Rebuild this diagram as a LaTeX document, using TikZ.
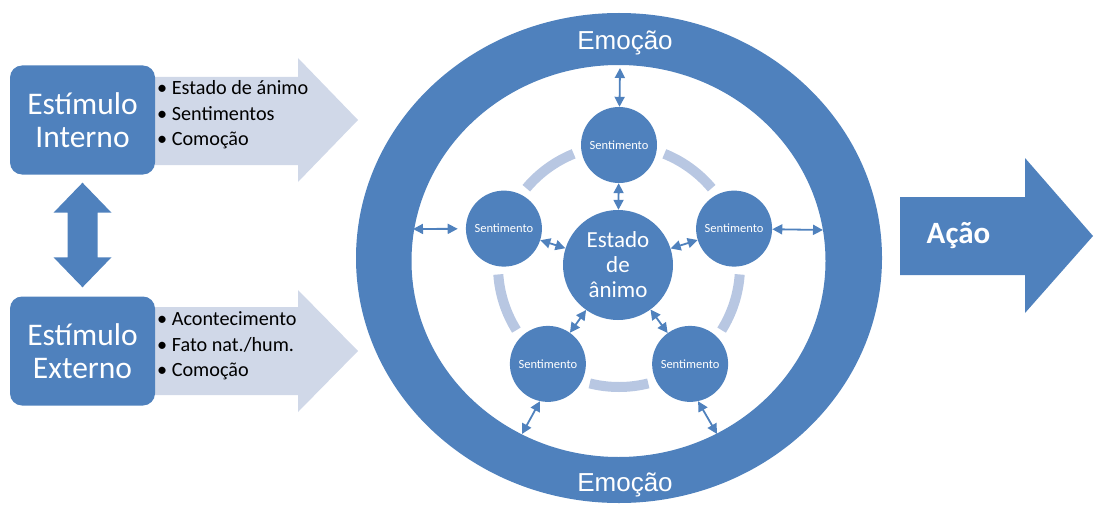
\documentclass[tikz,border=0pt]{standalone}
\usepackage{fontspec}
\setmainfont{Carlito}
\newfontfamily\arialfont{Liberation Sans}
\usetikzlibrary{arrows.meta,calc}
\definecolor{mainblue}{RGB}{79,129,189}
\definecolor{paleblue}{RGB}{208,216,232}
\definecolor{arcblue}{RGB}{184,199,226}

\begin{document}
\begin{tikzpicture}[x=1pt,y=-1pt,
  stimbox/.style={rectangle, rounded corners=12pt, fill=mainblue, text=white,
    minimum width=145pt, minimum height=109pt, align=center, inner sep=0pt,
    font=\fontsize{31.5}{33}\selectfont},
  feel/.style={circle, fill=mainblue, text=white, minimum size=76pt, inner sep=0pt,
    font=\fontsize{12.5}{13}\selectfont},
  core/.style={circle, fill=mainblue, text=white, minimum size=110pt, inner sep=0pt,
    align=center, font=\fontsize{23}{25}\selectfont},
  link/.style={mainblue, line width=1.8pt,
    {Triangle[length=10pt,width=10pt]}-{Triangle[length=10pt,width=10pt]}},
  bullets/.style={anchor=west, align=left, inner sep=0pt,
    font=\fontsize{20.2}{25.5}\selectfont},
  arcband/.style={arcblue, line width=10pt},
  ringlabel/.style={text=white, inner sep=0pt, font=\arialfont\fontsize{26}{28}\selectfont}
]
\useasboundingbox (0,0) rectangle (1094,508);

% pale arrows behind the stimulus boxes
\fill[paleblue] (150,77) -- (298,77) -- (298,58) -- (358,120) -- (298,182)
  -- (298,165) -- (150,165) -- cycle;
\fill[paleblue] (150,307) -- (298,307) -- (298,290) -- (358,351) -- (298,412)
  -- (298,395) -- (150,395) -- cycle;

% stimulus boxes
\node[stimbox] (si) at (82.5,120) {Estímulo\\Interno};
\node[stimbox] (se) at (82.5,351) {Estímulo\\Externo};

\node[bullets] (bi) at (157,115)
  {\textbullet\ Estado de ánimo\\\textbullet\ Sentimentos\\\textbullet\ Comoção};
\node[bullets] (be) at (157,346)
  {\textbullet\ Acontecimento\\\textbullet\ Fato nat./hum.\\\textbullet\ Comoção};

% thick double arrow between the two boxes
\path (si.south) ++(0,8) coordinate (dt);
\path (se.north) ++(0,-9) coordinate (db);
\fill[mainblue] (dt) -- ++(29,30) -- ++(-14,0) -- ($(db)+(15,-30)$) -- ++(14,0)
  -- (db) -- ++(-29,-30) -- ++(14,0) -- ($(dt)+(-15,30)$) -- ++(-14,0) -- cycle;

% emotion ring
\fill[mainblue, even odd rule]
  (619,258) ellipse [x radius=263pt, y radius=245pt]
  (618.5,261) ellipse [x radius=207pt, y radius=196pt];
\node[ringlabel] (e1) at (625,43) {Emoção};
\node[ringlabel] (e2) at (625,485) {Emoção};

% pale circular band linking the feelings
\coordinate (pc) at (619,266);
\foreach \a/\b in {40/68, -32/-4, -104/-76, 184/212, 112/140}
  \draw[arcband] ($(pc)+(\a:121pt)$) arc[start angle=\a, end angle=\b, radius=121pt];

% feelings and mood
\node[feel] (s1) at ($(pc)+(90:121pt)$) {Sentimento};
\node[feel] (s2) at ($(pc)+(162:121pt)$) {Sentimento};
\node[feel] (s3) at ($(pc)+(18:121pt)$) {Sentimento};
\node[feel] (s4) at ($(pc)+(-126:121pt)$) {Sentimento};
\node[feel] (s5) at ($(pc)+(-54:121pt)$) {Sentimento};
\node[core] (c) at (618,265) {Estado\\de\\ânimo};

% points on the inner edge of the ring
\coordinate (r1) at (620,68);
\coordinate (r2) at (413,229);
\coordinate (r3) at (823,230);
\coordinate (r4) at (522,434);
\coordinate (r5) at (717,434);

% links
\draw[link] (s1) -- (c);
\draw[link] (s2) -- (c);
\draw[link] (s3) -- (c);
\draw[link] (s4) -- (c);
\draw[link] (s5) -- (c);
\draw[link] (r1) -- (s1);
\draw[link, shorten >=8pt] (r2) -- (s2);
\draw[link] (r3) -- (s3);
\draw[link] (r4) -- (s4.-102);
\draw[link] (r5) -- (s5.-78);

% action arrow
\fill[mainblue] (900,197) -- (1025,197) -- (1025,158) -- (1093,236) -- (1025,313)
  -- (1025,275) -- (900,275) -- cycle;
\node[text=white, inner sep=0pt, font=\bfseries\fontsize{31}{33}\selectfont] (acao)
  at (958.5,236) {Ação};
\end{tikzpicture}
\end{document}
